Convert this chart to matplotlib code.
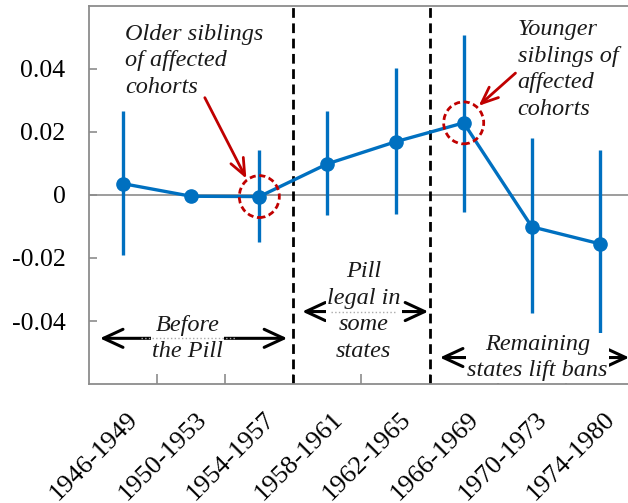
import matplotlib
matplotlib.use("Agg")
import matplotlib.pyplot as plt
import numpy as np
from matplotlib.patches import Ellipse
from matplotlib.transforms import ScaledTranslation

categories = ["1946-1949", "1950-1953", "1954-1957", "1958-1961",
              "1962-1965", "1966-1969", "1970-1973", "1974-1980"]
estimates = [0.0036, -0.0004, -0.0005, 0.0099, 0.0169, 0.0229, -0.0101, -0.0155]
ci_high = [0.0267, -0.0004, 0.0143, 0.0267, 0.0402, 0.0508, 0.0182, 0.0143]
ci_low = [-0.0190, -0.0004, -0.0148, -0.0062, -0.0059, -0.0053, -0.0376, -0.0446]
yticks = [-0.04, -0.02, 0, 0.02, 0.04]
ytick_labels = ["-0.04", "-0.02", "0", "0.02", "0.04"]

plt.rcParams['font.family'] = 'serif'
plt.rcParams['font.serif'] = ['Liberation Serif']

BLUE = "#0070C0"
RED = "#C00000"
GRAY = "#8C8C8C"

fig = plt.figure(figsize=(6.28, 5.03), dpi=100)
ax = fig.add_axes([89 / 628, 1 - 384 / 503, 545 / 628, 378 / 503])

x = np.arange(len(categories))
est = np.array(estimates)
yerr = np.vstack([est - np.array(ci_low), np.array(ci_high) - est])

ax.axhline(0, color=GRAY, lw=1.2, zorder=1)
ax.errorbar(x, est, yerr=yerr, fmt='-o', color=BLUE, ecolor=BLUE,
            elinewidth=2.4, lw=2.4, ms=9.5, capsize=0, zorder=3)

ax.set_xlim(-0.5, 7.5)
ax.set_ylim(-0.06, 0.06)

for xv in [2.5, 4.5]:
    ax.axvline(xv, color='black', ls=(0, (3.5, 2)), lw=2.0, zorder=2)

for s in ['left', 'bottom', 'top', 'right']:
    ax.spines[s].set_color(GRAY)
    ax.spines[s].set_linewidth(1.3)
ax.set_yticks(yticks)
ax.set_yticklabels(ytick_labels, fontsize=18.5)
ax.tick_params(axis='y', direction='in', length=6, width=1.2, color=GRAY, pad=17)

ax.set_xticks(np.arange(0.5, 7.5, 1.0))
ax.set_xticklabels([])
ax.tick_params(axis='x', which='major', direction='in', length=7, width=1.2, color=GRAY)
ax.set_xticks(x, minor=True)
ax.set_xticklabels(categories, minor=True, rotation=45, ha='right', va='top',
                   rotation_mode='anchor', fontsize=19)
ax.tick_params(axis='x', which='minor', length=0, pad=17)
for lab in ax.get_xticklabels(minor=True):
    lab.set_transform(lab.get_transform() + ScaledTranslation(0.04, 0, fig.dpi_scale_trans))

for idx in [2, 5]:
    c = Ellipse((idx, est[idx]), width=40 / 68.1, height=42 / 3155,
                fill=False, ec=RED, lw=2.0, ls=(0, (2.2, 1.3)), zorder=4)
    ax.add_patch(c)

tfont = dict(fontsize=17.5, style='italic', color='#1a1a1a')
ls = 1.35
ax.text(0.03, 0.0426, "Older siblings\nof affected\ncohorts", ha='left', va='center',
        linespacing=ls, **tfont)
ax.annotate("", xy=(1.81, 0.0052), xytext=(1.2, 0.0309),
            arrowprops=dict(arrowstyle='->,head_length=1.2,head_width=0.5', color=RED, lw=2.0,
                            shrinkA=0, shrinkB=0))
ax.text(5.79, 0.0399, "Younger\nsiblings of\naffected\ncohorts", ha='left', va='center',
        linespacing=ls, **tfont)
ax.annotate("", xy=(5.22, 0.0283), xytext=(5.76, 0.0387),
            arrowprops=dict(arrowstyle='->,head_length=1.2,head_width=0.5', color=RED, lw=2.0,
                            shrinkA=0, shrinkB=0))

def period(x0, x1, y, label, tx, gap):
    ax.annotate("", xy=(x0, y), xytext=(x1, y),
                arrowprops=dict(arrowstyle='<->,head_length=1.4,head_width=0.65',
                                color='black', lw=2.2, shrinkA=0, shrinkB=0), zorder=5)
    ax.text(tx, y, label, ha='center', va='center', linespacing=ls, zorder=6,
            bbox=dict(boxstyle='square,pad=0.05', fc='white', ec='none'), **tfont)
    if gap[1] > gap[0]:
        ax.plot(gap, [y, y], color='#aaaaaa', lw=1.0, ls=':', zorder=7)

period(-0.34, 2.41, -0.0455, "Before\nthe Pill", 0.95, [0.26, 1.65])
period(2.63, 4.48, -0.0370, "Pill\nlegal in\nsome\nstates", 3.53, [3.05, 4.0])
period(4.65, 7.43, -0.0516, "Remaining\nstates lift bans", 6.08, [6.08, 6.08])

fig.savefig("out.png", dpi=100)
